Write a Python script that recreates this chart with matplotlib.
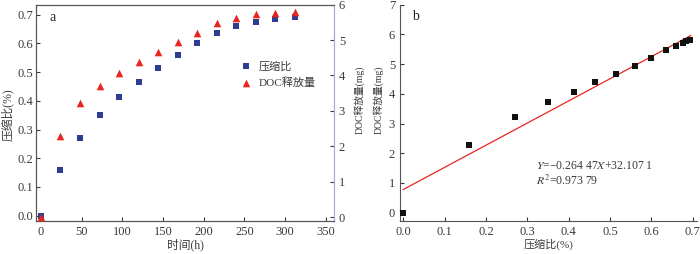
import matplotlib
matplotlib.use("Agg")
import matplotlib.pyplot as plt

plt.rcParams['font.family'] = ['Liberation Serif', 'Noto Sans CJK SC', 'DejaVu Sans']
plt.rcParams['mathtext.fontset'] = 'stix'
plt.rcParams['axes.unicode_minus'] = False

# ---- data ----
time_h = [0, 24, 48, 72, 96, 120, 144, 168, 192, 216, 240, 264, 288, 312]
compression = [0.0, 0.160, 0.270, 0.351, 0.412, 0.464, 0.515, 0.561, 0.600,
               0.635, 0.659, 0.675, 0.684, 0.693]
doc_release = [0.0, 2.29, 3.23, 3.71, 4.07, 4.38, 4.65, 4.95, 5.19,
               5.47, 5.61, 5.72, 5.77, 5.80]
fit_x = [0.0, 0.695]
fit_y = [0.78, 5.96]

xticks_a = [0, 50, 100, 150, 200, 250, 300, 350]
yticks_a_left = [0.0, 0.1, 0.2, 0.3, 0.4, 0.5, 0.6, 0.7]
yticks_a_right = [0, 1, 2, 3, 4, 5, 6]
xticks_b = [0.0, 0.1, 0.2, 0.3, 0.4, 0.5, 0.6, 0.7]
yticks_b = [0, 1, 2, 3, 4, 5, 6, 7]

eq_text = r'$\it{Y}$=−0.264 47$\it{X}$+32.107 1'
r2_text = r'$\it{R}^{2}$=0.973 79'

txt = '#3a3a3a'
spine_c = '#555555'
tfs = 9

fig = plt.figure(figsize=(7.0, 2.54), dpi=100)
top = 0.982
bot = 0.131

# ---- panel a ----
ax = fig.add_axes([0.0521, bot, 0.4250, top - bot])
ax.scatter(time_h, compression, marker='s', s=18, color='#2e3d8f', label='压缩比', zorder=3, linewidths=0)
ax.set_xlim(-5.5, 360)
ax.set_ylim(-0.0174, 0.735)
ax.set_xticks(xticks_a)
ax.set_yticks(yticks_a_left)
ax.set_yticklabels([f'{v:.1f}' for v in yticks_a_left])
ax.set_xlabel('时间(h)', fontsize=8.5, color=txt, labelpad=1)
ax.tick_params(direction='in', length=3, labelsize=tfs, colors=txt, width=0.8)
ax.tick_params(axis='y', pad=2.5)
for s in ax.spines.values():
    s.set_color(spine_c)
    s.set_linewidth(0.8)
ax.spines['right'].set_color('#a8a8dc')
ax.text(0.045, 0.97, 'a', transform=ax.transAxes, fontsize=10, color='#222222', va='top')

ax2 = ax.twinx()
ax2.scatter(time_h, doc_release, marker='^', s=30, color='#e8261e', label='DOC释放量', zorder=3, linewidths=0)
ax2.set_ylim(-0.1, 5.9)
ax2.set_yticks(yticks_a_right)
ax2.tick_params(direction='in', length=3, labelsize=tfs, colors=txt, width=0.8)
for s in ax2.spines.values():
    s.set_color(spine_c)
    s.set_linewidth(0.8)
ax2.spines['right'].set_color('#a8a8dc')

h1, l1 = ax.get_legend_handles_labels()
h2, l2 = ax2.get_legend_handles_labels()
ax2.legend(h1 + h2, l1 + l2, loc='upper left', bbox_to_anchor=(0.672, 0.76),
           frameon=False, fontsize=8, labelcolor=txt, handletextpad=0.6,
           borderaxespad=0, handlelength=1.0, labelspacing=0.55)

# y-axis titles placed as figure texts (centred)
fig.text(0.0115, 0.547, '压缩比(%)', rotation=90, ha='center', va='center',
         fontsize=8.5, color=txt)
fig.text(0.514, 0.606, 'DOC释放量(mg)', rotation=90, ha='center', va='center',
         fontsize=7, color=txt)
fig.text(0.540, 0.606, 'DOC释放量(mg)', rotation=90, ha='center', va='center',
         fontsize=7, color=txt)

# ---- panel b ----
bx = fig.add_axes([0.5714, bot, 0.4243, top - bot])
bx.scatter(compression, doc_release, marker='s', s=18, color='#111111', zorder=3, linewidths=0)
bx.plot(fit_x, fit_y, color='#e8261e', lw=0.9, zorder=2)
bx.set_xlim(-0.008, 0.71)
bx.set_ylim(-0.27, 6.93)
bx.set_xticks(xticks_b)
bx.set_xticklabels([f'{v:.1f}' for v in xticks_b])
bx.set_yticks(yticks_b)
bx.set_xlabel('压缩比(%)', fontsize=8, color=txt, labelpad=1)
bx.tick_params(direction='in', length=3, labelsize=tfs, colors=txt, width=0.8)
bx.spines['top'].set_visible(False)
bx.spines['right'].set_visible(False)
for s in ('left', 'bottom'):
    bx.spines[s].set_color(spine_c)
    bx.spines[s].set_linewidth(0.8)
bx.text(0.04, 0.975, 'b', transform=bx.transAxes, fontsize=10, color='#222222', va='top')
bx.text(0.32, 1.57, eq_text, fontsize=8.5, color=txt, va='center')
bx.text(0.32, 1.07, r2_text, fontsize=8.5, color=txt, va='center')

fig.savefig('out.png', dpi=100)
